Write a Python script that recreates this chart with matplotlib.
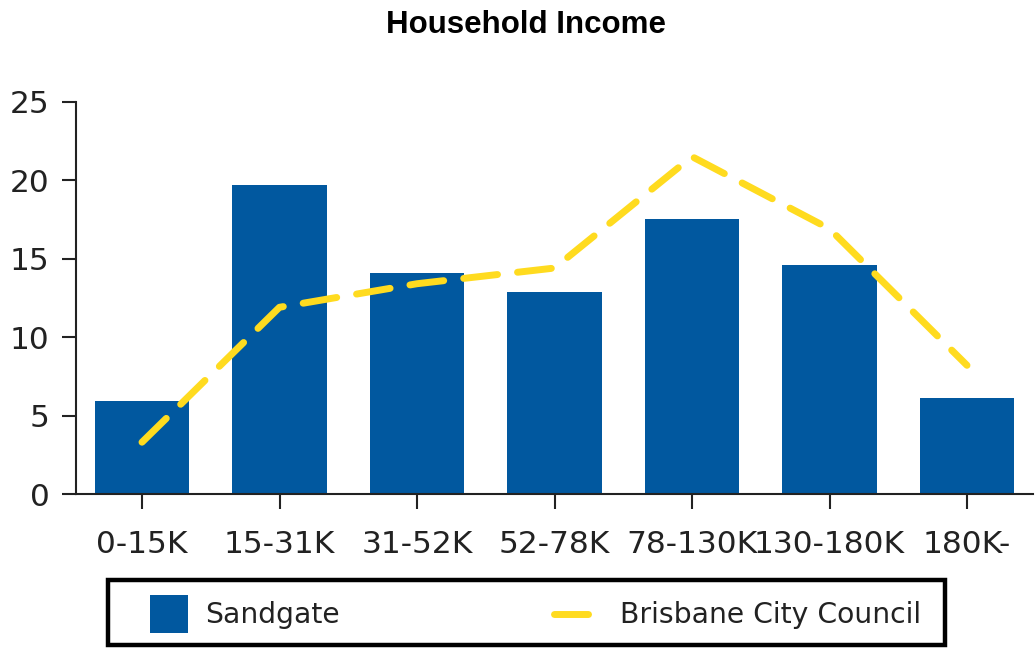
import matplotlib
matplotlib.use("Agg")
import matplotlib.pyplot as plt
import matplotlib.patches as mpatches
from matplotlib.legend_handler import HandlerPatch, HandlerLine2D
from matplotlib.lines import Line2D

# ── data ─────────────────────────────────────────────────────────────────────
categories = ["0-15K", "15-31K", "31-52K", "52-78K", "78-130K", "130-180K", "180K-"]
sandgate = [5.9, 19.7, 14.1, 12.9, 17.5, 14.6, 6.1]
brisbane = [3.3, 11.9, 13.4, 14.4, 21.5, 16.9, 8.2]
yticks = [0, 5, 10, 15, 20, 25]

BAR_BLUE = "#01589f"
YELLOW = "#ffdb1f"
W, H = 1035, 648
PT = 0.72  # points per pixel at dpi 100

plt.rcParams["font.family"] = ["DejaVu Sans"]

fig = plt.figure(figsize=(W / 100, H / 100), dpi=100)
ax = fig.add_axes([76 / W, 1 - 494 / H, (1033 - 76) / W, (494 - 101.7) / H])

x = list(range(len(categories)))
bars = ax.bar(x, sandgate, width=0.69, color=BAR_BLUE, zorder=2)
line, = ax.plot(x, brisbane, color=YELLOW, lw=5, dashes=(4.9, 2.9),
                dash_capstyle="round", solid_capstyle="round", zorder=3)

ax.set_xlim(-0.48, 6.48)
ax.set_ylim(0, 25)
ax.set_yticks(yticks)
ax.set_xticks(x)
ax.set_xticklabels(categories)

for s in ["top", "right"]:
    ax.spines[s].set_visible(False)
for s in ["left", "bottom"]:
    ax.spines[s].set_color("#222222")
    ax.spines[s].set_linewidth(1.5)

ax.tick_params(axis="y", length=10, width=1.5, color="#222222", pad=9,
               labelsize=22.5, labelcolor="#222222")
ax.tick_params(axis="x", length=11, width=1.5, color="#222222", pad=15,
               labelsize=22.5, labelcolor="#222222")

# ── title ────────────────────────────────────────────────────────────────────
fig.text(526 / W, 1 - 25 / H, "Household Income", ha="center", va="center",
         fontsize=22.5, fontweight="bold", family=["Liberation Sans", "DejaVu Sans"])

# ── legend ───────────────────────────────────────────────────────────────────
FS = 20.3
fs_px = FS / PT
bar_handle = bars.patches[0]


def square_patch(legend, orig_handle, xdescent, ydescent, width, height, fontsize):
    s = 38 * PT
    return mpatches.Rectangle((-xdescent, -ydescent + (height - s) / 2), s, s)


class LongLine(HandlerLine2D):
    def create_artists(self, legend, orig_handle, xdescent, ydescent,
                       width, height, fontsize, trans):
        y = height / 2 - ydescent
        ln = Line2D([-xdescent - 11 * PT, -xdescent + 41 * PT], [y, y])
        self.update_prop(ln, orig_handle, legend)
        ln.set_transform(trans)
        return [ln]


common = dict(loc="center left", fontsize=FS, frameon=False, borderaxespad=0,
              borderpad=0, handlelength=45 / fs_px, handleheight=38 / fs_px,
              handletextpad=10 / fs_px, labelcolor="#222222")
fig.legend([bar_handle], ["Sandgate"],
           handler_map={bar_handle: HandlerPatch(patch_func=square_patch)},
           bbox_to_anchor=(150 / W, 1 - 614 / H), **common)
fig.legend([line], ["Brisbane City Council"], handler_map={line: LongLine()},
           bbox_to_anchor=(565 / W, 1 - 614 / H), **common)

# legend frame
fig.patches.append(mpatches.Rectangle(
    (108 / W, 1 - 645 / H), (945 - 108) / W, 65 / H, transform=fig.transFigure,
    fill=False, edgecolor="black", linewidth=3.2, zorder=5))

fig.savefig("out.png", dpi=100, facecolor="white")
